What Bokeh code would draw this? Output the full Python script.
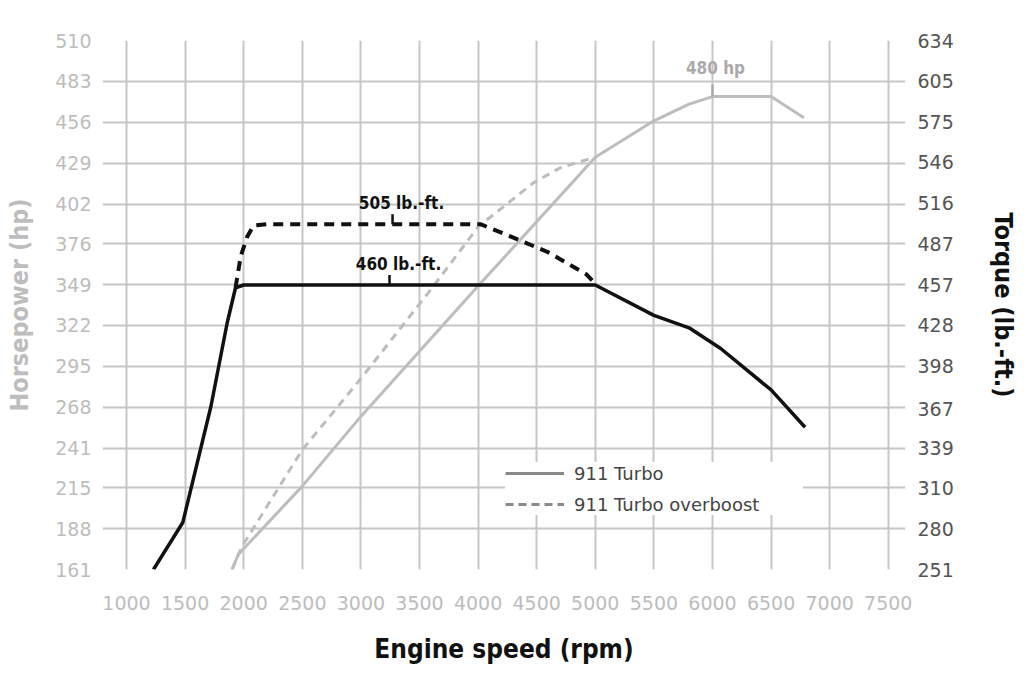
import math
from bokeh.plotting import figure
from bokeh.models import Range1d, LinearAxis, FixedTicker, Legend, LegendItem
from bokeh.core.properties import value
from bokeh.embed import file_html
from bokeh.resources import INLINE

# ---------------- data ----------------
x_ticks = [1000, 1500, 2000, 2500, 3000, 3500, 4000, 4500, 5000, 5500, 6000, 6500, 7000, 7500]
hp_ticks = [161, 188, 215, 241, 268, 295, 322, 349, 376, 402, 429, 456, 483, 510]
tq_ticks = [251, 280, 310, 339, 367, 398, 428, 457, 487, 516, 546, 575, 605, 634]

# 911 Turbo power (hp)
hp_rpm = [1900, 1955, 2500, 3000, 4000, 5000, 5500, 5800, 6000, 6500, 6780]
hp_val = [161, 171, 216, 262, 348, 433, 457, 468, 473, 473, 459]

# 911 Turbo overboost power (hp)
hp_ob_rpm = [1900, 1960, 2000, 2500, 3000, 3600, 4000, 4470, 4700, 5000]
hp_ob_val = [161, 172, 178, 240, 287, 346, 387, 416, 426, 433]

# 911 Turbo torque (lb.-ft.)
tq_rpm = [1230, 1480, 1720, 1860, 1930, 2000, 5000, 5500, 5800, 6070, 6500, 6790]
tq_val = [251, 285, 369, 430, 455, 457, 457, 435, 426, 411, 381, 354]

# 911 Turbo overboost torque (lb.-ft.)
tq_ob_rpm = [1930, 1975, 2030, 2085, 2200, 4020, 4280, 4590, 4920, 5000]
tq_ob_val = [455, 478, 492, 500, 501, 501, 492, 481, 465, 458]

# callouts: text, rpm of leader, curve level
tq_notes = ["505 lb.-ft.", "460 lb.-ft."]
tq_note_rpm = [3270, 3244]
tq_note_lvl = [501, 457]
hp_notes = ["480 hp"]
hp_note_rpm = [6000]
hp_note_lvl = [473]

series_names = ["911 Turbo", "911 Turbo overboost"]

# ---------------- figure ----------------
X0, X1 = 795, 7647
HP0, HP1 = 161, 510
TQ0, TQ1 = 251, 634

W, H = 1024, 699
ML, MR, MT, MB = 102, 119, 40, 130
FH = H - MT - MB

p = figure(width=W, height=H, output_backend="svg", toolbar_location=None,
           x_range=Range1d(X0, X1), y_range=Range1d(HP0, HP1),
           min_border_left=ML, min_border_right=MR, min_border_top=MT, min_border_bottom=MB)
p.extra_y_ranges = {"tq": Range1d(TQ0, TQ1)}
p.outline_line_color = None
p.background_fill_color = "white"
p.border_fill_color = "white"

tick_font = "DejaVu Sans"
title_font = "DejaVu Sans Condensed, DejaVu Sans, sans-serif"
grid_col = "#c6c6c6"

# grids
p.xgrid.ticker = FixedTicker(ticks=x_ticks)
p.ygrid.ticker = FixedTicker(ticks=hp_ticks)
for g in (p.xgrid, p.ygrid):
    g.grid_line_color = grid_col
    g.grid_line_width = 2

def style_axis(ax, col, title_col, label_standoff, title_standoff, title_size="25px"):
    ax.axis_line_color = None
    ax.major_tick_line_color = None
    ax.minor_tick_line_color = None
    ax.major_tick_out = 0
    ax.major_tick_in = 0
    ax.major_label_text_font = tick_font
    ax.major_label_text_font_size = "19px"
    ax.major_label_text_color = col
    ax.major_label_standoff = label_standoff
    ax.axis_label_text_font = title_font
    ax.axis_label_text_font_size = title_size
    ax.axis_label_text_font_style = "bold"
    ax.axis_label_text_color = title_col
    ax.axis_label_standoff = title_standoff

xa = p.xaxis[0]
xa.ticker = FixedTicker(ticks=x_ticks)
xa.axis_label = "Engine speed (rpm)"
style_axis(xa, "#bdbdbd", "#111111", 26, 21, "26px")

ya = p.yaxis[0]
ya.ticker = FixedTicker(ticks=hp_ticks)
ya.axis_label = "Horsepower (hp)"
style_axis(ya, "#bdbdbd", "#bdbdbd", 11, 18)

ra = LinearAxis(y_range_name="tq", ticker=FixedTicker(ticks=tq_ticks), axis_label="Torque (lb.-ft.)")
style_axis(ra, "#555555", "#111111", 12, 32)
p.add_layout(ra, "right")

# ---------------- curves ----------------
grey = "#bdbdbd"
p.line(hp_ob_rpm, hp_ob_val, line_color=grey, line_width=3, line_dash="8 6", line_join="round")
p.line(hp_rpm, hp_val, line_color=grey, line_width=3, line_join="round")
p.line(tq_ob_rpm, tq_ob_val, y_range_name="tq", line_color="#111111", line_width=4,
       line_dash="10 7", line_join="round")
p.line(tq_rpm, tq_val, y_range_name="tq", line_color="#111111", line_width=3.5, line_join="round")

# ---------------- callouts ----------------
tq_px = (TQ1 - TQ0) / FH
hp_px = (HP1 - HP0) / FH
p.segment(x0=tq_note_rpm, y0=tq_note_lvl, x1=tq_note_rpm,
          y1=[v + 10 * tq_px for v in tq_note_lvl], y_range_name="tq",
          line_color="#111111", line_width=2.5)
p.text(x=tq_note_rpm, y=tq_note_lvl, text=tq_notes, y_range_name="tq",
       x_offset=9, y_offset=-11, text_align="center", text_baseline="bottom",
       text_font=value(title_font), text_font_style="bold", text_font_size="17px",
       text_color="#111111")
p.segment(x0=hp_note_rpm, y0=hp_note_lvl, x1=hp_note_rpm,
          y1=[v + 12 * hp_px for v in hp_note_lvl],
          line_color="#aaaaaa", line_width=2.5)
p.text(x=hp_note_rpm, y=hp_note_lvl, text=hp_notes,
       x_offset=3, y_offset=-19, text_align="center", text_baseline="bottom",
       text_font=value(title_font), text_font_style="bold", text_font_size="17px",
       text_color="#aaaaaa")

# ---------------- legend ----------------
leg_col = "#8a8a8a"
nan = [math.nan]
r1 = p.line(nan, nan, line_color=leg_col, line_width=3)
r2 = p.line(nan, nan, line_color=leg_col, line_width=3, line_dash="8 5")
legend = Legend(items=[LegendItem(label=series_names[0], renderers=[r1]),
                       LegendItem(label=series_names[1], renderers=[r2])],
                location=(403, 54), orientation="vertical",
                padding=7, spacing=9, margin=0,
                glyph_width=59, glyph_height=22, label_height=22,
                label_standoff=10, label_width=229,
                label_text_font=tick_font, label_text_font_size="18px",
                label_text_color="#444444",
                background_fill_color="white", background_fill_alpha=1.0,
                border_line_color=None)
p.add_layout(legend, "center")

open("out.html", "w").write(file_html(p, INLINE))
